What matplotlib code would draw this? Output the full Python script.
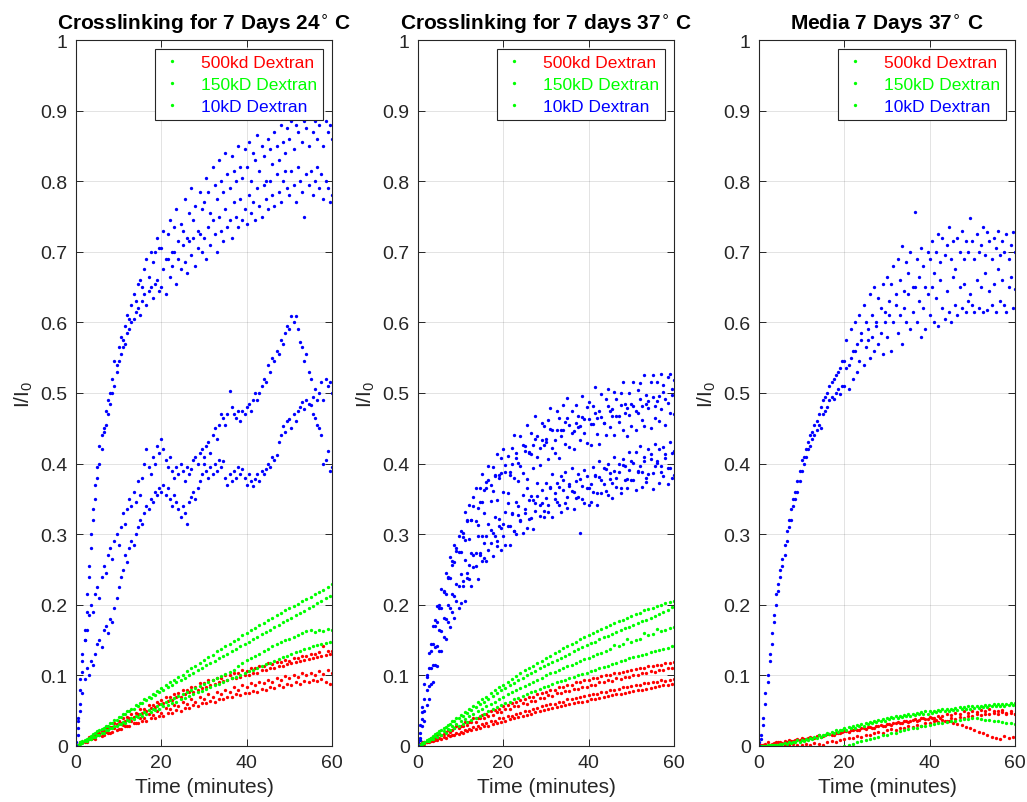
import numpy as np
import matplotlib
matplotlib.use('Agg')
import matplotlib.pyplot as plt
from matplotlib.lines import Line2D

plt.rcParams['font.family'] = ['Liberation Sans', 'DejaVu Sans']

# sampling grids (minutes)
t_half = np.arange(121) * 0.5        # 0, 0.5, ... 60
t_min = np.arange(61) * 1.0          # 0, 1, ... 60
t_mid = np.arange(60) + 0.5          # 0.5, 1.5, ... 59.5

# all I/I0 values below are in thousandths

# ---- Crosslinking for 7 Days 24 C ----
p1_blue_a = [0, 35, 80, 120, 165, 215, 255, 300, 335, 370, 395, 425, 440, 450, 475, 490, 500, 520, 545, 540,
             565, 580, 575, 595, 610, 605, 625, 640, 630, 655, 660, 650, 675, 690, 665, 700, 685, 700, 720, 705,
             705, 730, 690, 725, 745, 700, 735, 760, 715, 740, 730, 775, 720, 755, 790, 745, 765, 730, 785, 760,
             770, 805, 785, 755, 820, 795, 775, 830, 800, 785, 840, 810, 790, 835, 815, 800, 850, 820, 805, 845,
             820, 855, 800, 840, 830, 865, 815, 850, 835, 800, 860, 845, 825, 870, 850, 830, 880, 855, 840, 875,
             860, 885, 845, 880, 870, 890, 855, 885, 875, 850, 890, 870, 885, 860, 880, 890, 850, 885, 870, 880,
             860]
p1_blue_b = [5, 25, 60, 105, 150, 190, 240, 280, 320, 350, 380, 400, 420, 445, 455, 470, 485, 500, 510, 530,
             545, 555, 565, 570, 585, 590, 600, 605, 615, 620, 610, 630, 640, 625, 645, 650, 635, 655, 660, 645,
             650, 675, 640, 690, 665, 680, 700, 655, 690, 675, 710, 685, 670, 715, 695, 720, 680, 705, 725, 700,
             720, 690, 735, 710, 745, 725, 700, 750, 730, 715, 760, 735, 745, 720, 770, 750, 735, 775, 745, 760,
             740, 780, 755, 770, 745, 790, 765, 750, 795, 775, 760, 800, 780, 765, 810, 785, 770, 800, 815, 790,
             780, 815, 795, 770, 820, 800, 785, 750, 810, 795, 815, 780, 800, 820, 790, 810, 775, 800, 790, 770,
             780]
p1_blue_c = [0, 40, 95, 130, 150, 165, 185, 200, 190, 215, 225, 210, 240, 255, 245, 270, 280, 265, 290, 300,
             285, 310, 330, 315, 335, 350, 340, 360, 345, 375, 355, 380, 400, 420, 395, 385, 410, 400, 425, 415,
             435, 420, 405, 395, 410, 390, 380, 395, 385, 400, 390, 375, 395, 385, 392, 405, 410, 400, 415, 420,
             410, 425, 430, 415, 440, 450, 435, 455, 470, 465, 455, 470, 503, 480, 470, 465, 475, 460, 474, 470,
             480, 485, 475, 490, 500, 490, 500, 510, 520, 515, 540, 530, 550, 545, 560, 555, 575, 570, 585, 595,
             590, 609, 600, 609, 590, 572, 565, 545, 555, 530, 520, 495, 505, 490, 500, 515, 490, 520, 510, 515,
             500]
p1_blue_d = [0, 15, 50, 75, 95, 110, 100, 120, 115, 130, 145, 150, 140, 165, 170, 160, 180, 175, 195, 210,
             225, 240, 250, 270, 260, 280, 290, 285, 300, 310, 320, 315, 330, 340, 335, 350, 345, 360, 355, 365,
             360, 370, 355, 365, 350, 340, 355, 345, 335, 325, 340, 330, 315, 345, 353, 360, 350, 365, 375, 385,
             400, 390, 380, 395, 385, 400, 390, 405, 395, 403, 380, 370, 385, 375, 390, 380, 395, 385, 392, 380,
             370, 385, 375, 368, 378, 385, 375, 390, 385, 392, 400, 395, 410, 405, 412, 430, 440, 453, 445, 460,
             463, 450, 470, 460, 475, 480, 487, 478, 490, 485, 483, 470, 465, 455, 450, 440, 400, 405, 418, 390,
             395]
p1_green_a = [0, 5, 9, 12, 17, 21, 24, 29, 32, 37, 41,
              45, 50, 53, 58, 61, 66, 70, 73, 78, 82,
              86, 90, 93, 98, 101, 106, 110, 113, 118, 122,
              126, 129, 134, 137, 141, 145, 149, 152, 157, 160,
              164, 167, 171, 174, 178, 181, 185, 188, 192, 195,
              198, 201, 205, 208, 211, 215, 218, 221, 225, 229]
p1_green_b = [2, 7, 10, 14, 18, 22, 25, 29, 33, 37,
              41, 46, 49, 53, 57, 61, 65, 68, 72, 76,
              80, 83, 86, 91, 94, 97, 101, 104, 108, 111,
              115, 118, 121, 125, 128, 131, 135, 138, 141, 145,
              148, 151, 155, 158, 161, 165, 168, 171, 175, 178,
              181, 185, 188, 191, 195, 198, 202, 205, 209, 213]
p1_green_c = [0, 3, 7, 10, 13, 16, 19, 22, 25, 28, 31,
              34, 37, 40, 42, 45, 48, 51, 53, 56, 59,
              62, 65, 68, 71, 74, 77, 80, 82, 85, 88,
              91, 94, 97, 99, 102, 105, 108, 113, 117, 122,
              125, 128, 131, 135, 138, 141, 144, 147, 150, 152,
              155, 157, 160, 163, 164, 162, 165, 163, 166, 165]
p1_green_d = [1, 4, 7, 10, 13, 16, 19, 22, 25, 28,
              31, 33, 36, 38, 41, 43, 46, 48, 51, 53,
              56, 58, 61, 63, 66, 68, 71, 73, 76, 78,
              81, 83, 86, 88, 91, 93, 96, 98, 101, 103,
              106, 108, 111, 113, 116, 118, 121, 123, 126, 128,
              131, 133, 135, 137, 139, 141, 143, 145, 146, 148]
p1_red_a = [0, 6, 7, 13, 15, 19, 21, 27, 27, 33, 35,
            39, 41, 45, 47, 52, 53, 58, 58, 63, 65,
            69, 69, 74, 75, 79, 79, 84, 84, 89, 89,
            93, 93, 97, 96, 100, 100, 104, 103, 107, 106,
            110, 110, 113, 113, 117, 116, 119, 119, 122, 121,
            125, 124, 128, 127, 130, 130, 133, 142, 135, 135]
p1_red_b = [2, 6, 9, 12, 15, 19, 21, 25, 27, 31,
            33, 36, 40, 41, 45, 47, 50, 54, 55, 59,
            61, 64, 65, 69, 70, 73, 76, 77, 80, 82,
            84, 87, 88, 90, 92, 93, 96, 96, 98, 100,
            101, 104, 104, 107, 108, 110, 111, 113, 114, 116,
            117, 119, 120, 122, 123, 124, 126, 127, 129, 131]
p1_red_c = [0, 4, 6, 10, 11, 15, 14, 20, 19, 25, 24,
            30, 28, 35, 33, 40, 39, 45, 44, 49, 47,
            54, 52, 58, 56, 62, 60, 66, 63, 69, 66,
            73, 70, 76, 73, 80, 77, 83, 80, 86, 83,
            89, 86, 91, 89, 94, 91, 97, 94, 99, 96,
            101, 98, 103, 100, 104, 101, 106, 102, 107, 103]
p1_red_d = [1, 5, 5, 10, 10, 15, 15, 19, 20, 23,
            24, 28, 28, 32, 32, 36, 36, 39, 40, 43,
            43, 47, 47, 51, 50, 54, 54, 58, 57, 61,
            61, 64, 63, 67, 67, 70, 69, 73, 72, 75,
            75, 78, 77, 81, 79, 83, 82, 86, 84, 88,
            87, 90, 88, 92, 91, 93, 92, 95, 90, 88]

# ---- Crosslinking for 7 days 37 C ----
p2_blue_a = [0, 30, 55, 88, 100, 132, 145, 170, 178, 198, 200, 222, 218, 245, 238, 268, 262, 285, 280, 298,
             305, 296, 331, 318, 341, 320, 353, 365, 337, 366, 385, 362, 374, 396, 370, 395, 384, 413, 384, 408,
             420, 388, 411, 384, 422, 440, 408, 401, 439, 427, 425, 454, 416, 444, 426, 468, 439, 422, 458, 453,
             430, 462, 479, 448, 433, 475, 464, 447, 483, 459, 493, 454, 475, 446, 483, 468, 453, 496, 463, 480,
             487, 456, 482, 508, 464, 475, 499, 457, 491, 506, 475, 468, 502, 491, 467, 500, 516, 484, 479, 500,
             485, 516, 475, 504, 514, 482, 526, 497, 488, 516, 525, 481, 515, 496, 527, 512, 491, 522, 527, 506,
             518]
p2_blue_b = [5, 18, 48, 66, 98, 110, 135, 145, 170, 175, 195, 196, 220, 215, 240, 238, 256, 260, 276, 275,
             275, 302, 292, 320, 293, 320, 340, 318, 313, 346, 345, 330, 365, 377, 347, 361, 382, 349, 380, 386,
             360, 398, 358, 388, 399, 380, 415, 375, 397, 386, 418, 378, 415, 414, 394, 435, 410, 398, 434, 426,
             435, 406, 449, 422, 415, 448, 408, 439, 448, 428, 464, 424, 444, 420, 457, 452, 433, 466, 443, 429,
             463, 427, 456, 471, 442, 428, 466, 457, 440, 481, 452, 477, 440, 468, 459, 483, 448, 472, 439, 469,
             453, 482, 447, 472, 491, 462, 453, 484, 479, 450, 494, 465, 489, 460, 478, 501, 455, 486, 472, 497,
             470]
p2_blue_c = [0, 12, 38, 50, 80, 85, 110, 115, 140, 142, 165, 163, 182, 180, 200, 196, 215, 212, 230, 226,
             243, 226, 264, 245, 236, 273, 270, 255, 297, 270, 298, 266, 298, 314, 287, 302, 325, 290, 321, 309,
             297, 331, 344, 312, 330, 305, 345, 327, 319, 356, 330, 366, 322, 354, 349, 333, 373, 341, 363, 333,
             372, 341, 366, 385, 350, 373, 342, 383, 362, 388, 353, 371, 394, 360, 351, 385, 378, 350, 391, 366,
             365, 346, 395, 384, 359, 404, 377, 394, 361, 400, 387, 372, 409, 380, 399, 366, 406, 397, 378, 416,
             404, 377, 417, 390, 425, 388, 404, 379, 420, 413, 387, 428, 401, 420, 388, 423, 408, 394, 431, 415,
             418]
p2_blue_d = [0, 8, 28, 36, 58, 66, 88, 90, 115, 114, 135, 134, 155, 152, 176, 168, 190, 182, 205, 196,
             203, 234, 206, 238, 256, 227, 253, 274, 237, 274, 262, 288, 262, 278, 306, 269, 298, 283, 312, 278,
             314, 284, 311, 285, 329, 304, 300, 340, 320, 301, 335, 309, 349, 323, 308, 344, 354, 326, 344, 325,
             351, 332, 367, 324, 359, 346, 367, 332, 377, 344, 337, 368, 361, 335, 376, 352, 301, 368, 344, 383,
             342, 371, 360, 383, 342, 381, 358, 371, 392, 355, 378, 351, 390, 367, 388, 359, 398, 377, 366, 391,
             377, 401, 362, 388, 397, 367, 410, 374, 385, 407, 364, 396, 403, 373, 396, 382, 413, 371, 394, 380,
             384]
p2_green_a = [0, 4, 8, 12, 17, 21, 26, 30, 35, 39, 44,
              48, 53, 57, 62, 66, 70, 75, 79, 83, 87,
              91, 95, 99, 103, 107, 110, 114, 118, 121, 125,
              128, 132, 135, 139, 142, 145, 148, 151, 154, 157,
              160, 163, 166, 169, 171, 174, 177, 179, 182, 184,
              187, 189, 192, 194, 196, 198, 200, 202, 204, 206]
p2_green_b = [2, 6, 10, 14, 18, 22, 27, 31, 35, 39,
              43, 47, 51, 55, 59, 63, 67, 71, 75, 79,
              82, 86, 89, 93, 96, 100, 103, 106, 110, 113,
              116, 119, 122, 125, 128, 131, 134, 137, 140, 143,
              146, 148, 151, 154, 156, 159, 162, 164, 167, 169,
              172, 174, 177, 179, 182, 184, 187, 190, 193, 197]
p2_green_c = [0, 3, 7, 10, 14, 17, 21, 24, 28, 31, 35,
              38, 42, 45, 49, 52, 56, 59, 63, 66, 70,
              73, 76, 79, 82, 85, 88, 91, 94, 97, 100,
              103, 105, 108, 110, 113, 115, 118, 120, 123, 125,
              128, 130, 132, 135, 137, 143, 141, 144, 151, 148,
              150, 152, 160, 157, 159, 166, 163, 165, 167, 168]
p2_green_d = [1, 4, 7, 10, 13, 16, 19, 22, 25, 28,
              31, 34, 37, 40, 43, 46, 49, 52, 55, 58,
              61, 63, 66, 68, 71, 73, 76, 78, 81, 83,
              85, 88, 90, 92, 94, 96, 98, 100, 102, 104,
              106, 108, 110, 112, 114, 116, 118, 120, 122, 124,
              126, 128, 129, 131, 133, 134, 136, 137, 139, 141]
p2_red_a = [0, 5, 6, 11, 11, 17, 17, 23, 23, 28, 29,
            34, 34, 39, 40, 44, 45, 49, 51, 53, 57,
            58, 61, 62, 65, 67, 69, 70, 73, 75, 77,
            79, 80, 83, 84, 86, 87, 90, 91, 93, 94,
            96, 97, 99, 100, 101, 103, 104, 105, 106, 108,
            109, 110, 111, 113, 113, 115, 115, 117, 117, 119]
p2_red_b = [3, 5, 9, 10, 15, 16, 20, 20, 25, 25,
            29, 30, 34, 34, 39, 39, 43, 44, 48, 48,
            52, 52, 57, 56, 61, 60, 64, 64, 68, 68,
            72, 71, 75, 75, 78, 78, 81, 81, 84, 84,
            87, 87, 90, 90, 93, 92, 96, 95, 98, 98,
            101, 100, 103, 103, 106, 105, 108, 107, 110, 110]
p2_red_c = [0, 2, 5, 7, 9, 11, 13, 15, 16, 19, 20,
            23, 24, 27, 28, 31, 32, 35, 36, 39, 40,
            43, 43, 46, 47, 50, 50, 53, 54, 57, 58,
            60, 60, 63, 63, 66, 66, 68, 69, 71, 72,
            74, 74, 77, 77, 79, 80, 81, 83, 83, 85,
            87, 87, 89, 89, 91, 91, 93, 92, 94, 95]
p2_red_d = [1, 3, 5, 7, 9, 10, 12, 14, 16, 17,
            19, 21, 23, 24, 26, 28, 29, 31, 33, 34,
            36, 38, 39, 41, 43, 44, 46, 48, 49, 51,
            53, 54, 55, 57, 58, 59, 61, 62, 63, 64,
            66, 67, 68, 69, 71, 72, 73, 74, 75, 77,
            78, 79, 80, 81, 82, 84, 85, 86, 87, 88]

# ---- Media 7 Days 37 C ----
p3_blue_a = [5, 15, 40, 75, 100, 130, 160, 185, 215, 230, 250, 265, 285, 305, 320, 335, 350, 360, 375, 390,
             405, 410, 420, 430, 440, 445, 455, 460, 470, 480, 490, 495, 500, 510, 515, 520, 525, 530, 535, 545,
             545, 575, 540, 590, 560, 600, 570, 610, 585, 625, 600, 575, 640, 610, 650, 595, 635, 620, 655, 615,
             665, 630, 655, 680, 640, 690, 660, 708, 645, 685, 670, 700, 650, 756, 690, 665, 705, 680, 650, 700,
             690, 715, 670, 700, 725, 685, 720, 695, 710, 735, 690, 715, 675, 720, 700, 730, 690, 715, 700, 748,
             715, 690, 725, 700, 710, 735, 695, 728, 715, 690, 720, 705, 730, 695, 715, 700, 725, 690, 710, 728,
             700]
p3_blue_b = [0, 10, 30, 60, 90, 120, 145, 175, 200, 220, 240, 255, 270, 290, 310, 320, 340, 350, 360, 375,
             390, 400, 410, 420, 425, 435, 440, 448, 455, 450, 470, 475, 480, 490, 495, 492, 500, 505, 498, 510,
             510, 535, 505, 550, 520, 560, 530, 545, 575, 540, 565, 590, 550, 580, 560, 600, 570, 585, 555, 600,
             580, 610, 560, 600, 625, 585, 610, 570, 620, 600, 640, 590, 615, 650, 600, 630, 580, 620, 590, 640,
             610, 650, 600, 635, 595, 660, 620, 605, 645, 615, 600, 665, 625, 610, 650, 620, 655, 615, 630, 640,
             625, 615, 660, 620, 650, 615, 670, 618, 645, 625, 655, 615, 675, 630, 660, 625, 615, 650, 665, 620,
             648]
p3_green_a = [0, 0, 1, 2, 2, 3, 4, 5, 6, 8, 9,
              10, 12, 13, 15, 16, 18, 20, 22, 23, 25,
              27, 28, 30, 31, 33, 34, 36, 37, 38, 40,
              41, 42, 43, 44, 45, 46, 47, 48, 49, 50,
              50, 51, 52, 53, 53, 54, 55, 55, 56, 56,
              57, 57, 58, 58, 59, 59, 60, 60, 61, 61]
p3_green_b = [0, 0, 1, 1, 2, 3, 3, 4, 5, 6,
              7, 9, 10, 12, 13, 15, 17, 18, 20, 22,
              23, 25, 26, 28, 29, 31, 32, 34, 35, 36,
              38, 39, 40, 41, 42, 43, 44, 45, 46, 46,
              47, 48, 49, 49, 50, 51, 51, 52, 53, 53,
              54, 54, 55, 55, 56, 56, 57, 57, 58, 58]
p3_green_c = [-30, -28, -27, -25, -24, -22, -21, -20, -18, -17, -16,
              -14, -13, -11, -10, -8, -7, -5, -4, -2, 0,
              2, 3, 5, 7, 8, 10, 12, 13, 15, 16,
              18, 19, 21, 22, 24, 25, 26, 28, 29, 30,
              31, 32, 33, 34, 35, 36, 37, 38, 38, 39,
              39, 38, 37, 37, 36, 35, 34, 33, 32, 31]
p3_red_a = [3, 2, 5, 3, 6, 5, 7, 9, 7, 10, 11,
            10, 13, 12, 15, 14, 17, 16, 19, 18, 21,
            20, 23, 22, 25, 24, 27, 26, 29, 28, 31,
            30, 33, 32, 35, 34, 37, 36, 39, 38, 41,
            40, 43, 42, 45, 44, 47, 45, 49, 47, 50,
            48, 51, 49, 52, 50, 49, 51, 47, 50, 46]
p3_red_b = [2, 3, 2, 4, 5, 4, 6, 7, 8, 9,
            10, 11, 12, 14, 13, 15, 17, 16, 19, 20,
            21, 22, 24, 23, 25, 27, 26, 28, 30, 29,
            31, 32, 34, 33, 35, 36, 38, 37, 39, 38,
            40, 37, 39, 36, 35, 33, 31, 30, 27, 25,
            22, 20, 19, 15, 13, 11, 10, 14, 12, 13]
p3_red_c = [0, 1, -1, 2, 0, 1, 2, 1, 3, 2, 1,
            3, 2, 4, 3, 2, 5, 7, 6, 9, 10,
            12, 11, 14, 13, 16, 15, 18, 20, 19, 22,
            24, 23, 26, 25, 28, 27, 30, 29, 32, 33,
            35, 34, 37, 36, 39, 38, 41, 40, 43, 42,
            45, 44, 46, 45, 47, 46, 48, 45, 47, 46]

titles = ['Crosslinking for 7 Days 24$^{\\circ}$ C',
          'Crosslinking for 7 days 37$^{\\circ}$ C',
          'Media 7 Days 37$^{\\circ}$ C']
legend_labels = ['500kd Dextran', '150kD Dextran', '10kD Dextran']
x_ticks = [0, 20, 40, 60]
y_ticks = [0, 0.1, 0.2, 0.3, 0.4, 0.5, 0.6, 0.7, 0.8, 0.9, 1]

RED, GREEN, BLUE = (1, 0, 0), (0, 1, 0), (0, 0, 1)
legend_colors = [RED, GREEN, BLUE]
INK = '#262626'

panels = [
    {'blue': [(t_half, p1_blue_a), (t_half, p1_blue_b), (t_half, p1_blue_c), (t_half, p1_blue_d)],
     'green': [(t_min, p1_green_a), (t_mid, p1_green_b), (t_min, p1_green_c), (t_mid, p1_green_d)],
     'red': [(t_min, p1_red_a), (t_mid, p1_red_b), (t_min, p1_red_c), (t_mid, p1_red_d)]},
    {'blue': [(t_half, p2_blue_a), (t_half, p2_blue_b), (t_half, p2_blue_c), (t_half, p2_blue_d)],
     'green': [(t_min, p2_green_a), (t_mid, p2_green_b), (t_min, p2_green_c), (t_mid, p2_green_d)],
     'red': [(t_min, p2_red_a), (t_mid, p2_red_b), (t_min, p2_red_c), (t_mid, p2_red_d)]},
    {'blue': [(t_half, p3_blue_a), (t_half, p3_blue_b)],
     'green': [(t_min, p3_green_a), (t_mid, p3_green_b), (t_min, p3_green_c)],
     'red': [(t_min, p3_red_a), (t_mid, p3_red_b), (t_min, p3_red_c)]},
]

W, H = 1027, 803
fig = plt.figure(figsize=(W / 100, H / 100), dpi=100)
lefts = [76, 418, 759]

for k, p in enumerate(panels):
    ax = fig.add_axes([lefts[k] / W, 56 / H, 256 / W, 706 / H])
    for key, col in (('red', RED), ('green', GREEN), ('blue', BLUE)):
        for t, v in p[key]:
            ax.plot(t, np.asarray(v) / 1000.0, ls='none', marker='o', ms=2.4, mew=0, color=col)

    ax.set_xlim(0, 60)
    ax.set_ylim(0, 1)
    ax.set_xticks(x_ticks)
    ax.set_yticks(y_ticks)
    ax.set_yticklabels([f'{v:g}' for v in y_ticks])
    ax.grid(True, color=INK, alpha=0.15, lw=0.6)
    ax.set_axisbelow(True)
    ax.tick_params(direction='in', top=True, right=True, length=5, width=0.7,
                   labelsize=14, colors=INK, pad=6)
    for s in ax.spines.values():
        s.set_color(INK)
        s.set_linewidth(0.8)

    ax.set_title(titles[k], fontsize=15, fontweight='bold', pad=8)
    ax.set_xlabel('Time (minutes)', fontsize=15, color=INK)
    ax.set_ylabel('I/I$_\\mathregular{0}$', fontsize=15, color=INK)

    handles = [Line2D([], [], ls='none', marker='o', ms=2.4, mew=0, color=GREEN)
               for _ in legend_labels]
    leg = ax.legend(handles, legend_labels, loc='upper right', fontsize=12.5,
                    frameon=True, fancybox=False, edgecolor=INK, framealpha=1,
                    borderaxespad=0.5, handlelength=1.3, handletextpad=1.0,
                    borderpad=0.35, labelspacing=0.4)
    leg.get_frame().set_linewidth(0.8)
    for txt, c in zip(leg.get_texts(), legend_colors):
        txt.set_color(c)

fig.savefig('out.png', dpi=100, facecolor='white')
